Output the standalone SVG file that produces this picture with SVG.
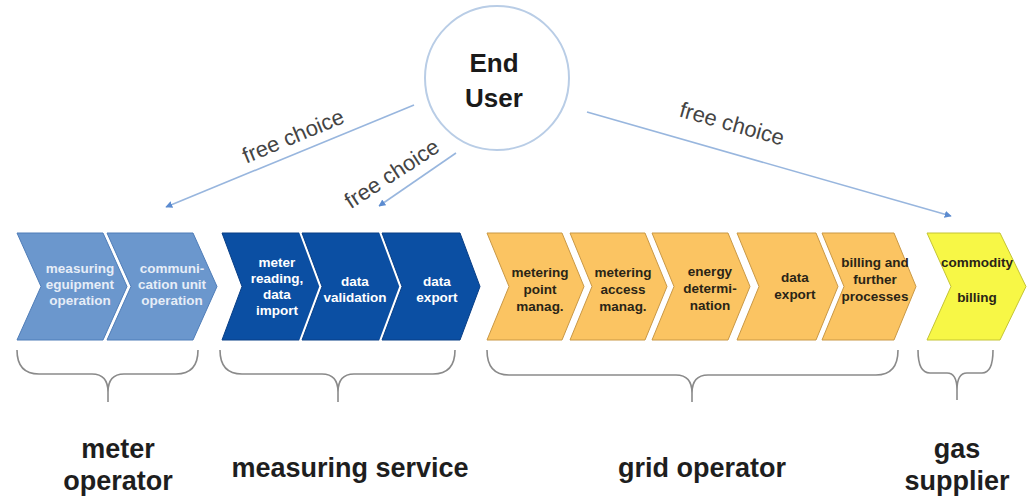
<svg xmlns="http://www.w3.org/2000/svg" width="1030" height="497" viewBox="0 0 1030 497">
  <defs>
    <marker id="tri" viewBox="0 0 10 10" refX="9" refY="5" markerWidth="7" markerHeight="7" orient="auto" markerUnits="userSpaceOnUse">
      <path d="M0,0 L10,5 L0,10 z" fill="#5b8bd0"/>
    </marker>
    <!-- chevron outlines: top-left, top-right, tip, bottom-right, bottom-left, notch -->
    <polygon id="c-meq" points="17,233 103,233 127,286.5 103,340 17,340 41,286.5"/>
    <polygon id="c-com" points="107,233 193,233 217,286.5 193,340 107,340 131,286.5"/>
    <polygon id="c-mrd" points="222,233 300,233 320,286.5 300,340 222,340 242,286.5"/>
    <polygon id="c-val" points="302,233 380,233 400,286.5 380,340 302,340 322,286.5"/>
    <polygon id="c-exm" points="382,233 460,233 480,286.5 460,340 382,340 402,286.5"/>
    <polygon id="c-mpt" points="487,233 562,233 584,286.5 562,340 487,340 509,286.5"/>
    <polygon id="c-mac" points="570,233 645,233 667,286.5 645,340 570,340 592,286.5"/>
    <polygon id="c-ene" points="652,233 728,233 750,286.5 728,340 652,340 674,286.5"/>
    <polygon id="c-exg" points="737,233 816,233 838,286.5 816,340 737,340 759,286.5"/>
    <polygon id="c-bil" points="822,233 894,233 916,286.5 894,340 822,340 844,286.5"/>
    <polygon id="c-cmd" points="927,233 1000,233 1026,286.5 1000,340 927,340 951,286.5"/>
    <style>
      .halo { fill: #ffffff; stroke: #ffffff; stroke-width: 5; stroke-linejoin: miter; }
      .lb { fill: #6b97cd; stroke: #4f7db8; stroke-width: 1; }
      .db { fill: #0b4fa3; stroke: #083e86; stroke-width: 1; }
      .or { fill: #fbc462; stroke: #c99845; stroke-width: 1; }
      .ye { fill: #f7f746; stroke: #c4c435; stroke-width: 1; }
      .t { font-family: "Liberation Sans", Arial, sans-serif; font-weight: 700; font-size: 13.5px; text-anchor: middle; }
      .tl { fill: #e6edf7; }
      .td { fill: #ffffff; }
      .tk { fill: #2a2416; }
      .conn { stroke: #98b6de; stroke-width: 1.6; fill: none; }
      .lbl { font-family: "Liberation Sans", Arial, sans-serif; font-size: 22px; fill: #444; text-anchor: middle; }
      .brace { stroke: #8a8a8a; stroke-width: 1.6; fill: none; }
      .role { font-family: "Liberation Sans", Arial, sans-serif; font-weight: 700; font-size: 27px; fill: #1e1e1e; text-anchor: middle; }
    </style>
  </defs>
  <rect width="1030" height="497" fill="#ffffff"/>

  <!-- End user -->
  <g id="end-user">
    <circle cx="497" cy="78" r="72" fill="#ffffff" stroke="#b9cde6" stroke-width="2"/>
    <text x="494" y="72" font-family="Liberation Sans, Arial, sans-serif" font-weight="700" font-size="26" fill="#1a1a1a" text-anchor="middle">End</text>
    <text x="494" y="107" font-family="Liberation Sans, Arial, sans-serif" font-weight="700" font-size="26" fill="#1a1a1a" text-anchor="middle">User</text>
  </g>

  <!-- Choice connectors -->
  <g id="connectors">
    <line class="conn" x1="414" y1="105" x2="166" y2="207" marker-end="url(#tri)"/>
    <line class="conn" x1="456" y1="153" x2="379" y2="206" marker-end="url(#tri)"/>
    <line class="conn" x1="587" y1="112" x2="951" y2="216" marker-end="url(#tri)"/>
    <text class="lbl" transform="translate(296,143) rotate(-22.6)">free choice</text>
    <text class="lbl" transform="translate(396,180) rotate(-33)">free choice</text>
    <text class="lbl" transform="translate(730,131) rotate(15.8)">free choice</text>
  </g>

  <!-- Meter operator steps -->
  <g id="measuring-equipment">
    <use href="#c-meq" class="halo"/><use href="#c-meq" class="lb"/>
    <text class="t tl" x="80" y="273">measuring</text>
    <text class="t tl" x="80" y="289">eguipment</text>
    <text class="t tl" x="80" y="305">operation</text>
  </g>
  <g id="communication-unit">
    <use href="#c-com" class="halo"/><use href="#c-com" class="lb"/>
    <text class="t tl" x="172" y="273">communi-</text>
    <text class="t tl" x="172" y="289">cation unit</text>
    <text class="t tl" x="172" y="305">operation</text>
  </g>

  <!-- Measuring service steps -->
  <g id="meter-reading">
    <use href="#c-mrd" class="halo"/><use href="#c-mrd" class="db"/>
    <text class="t td" x="277" y="267">meter</text>
    <text class="t td" x="277" y="283">reading,</text>
    <text class="t td" x="277" y="299">data</text>
    <text class="t td" x="277" y="315">import</text>
  </g>
  <g id="data-validation">
    <use href="#c-val" class="halo"/><use href="#c-val" class="db"/>
    <text class="t td" x="355" y="286">data</text>
    <text class="t td" x="355" y="302">validation</text>
  </g>
  <g id="data-export-ms">
    <use href="#c-exm" class="halo"/><use href="#c-exm" class="db"/>
    <text class="t td" x="437" y="286">data</text>
    <text class="t td" x="437" y="302">export</text>
  </g>

  <!-- Grid operator steps -->
  <g id="metering-point">
    <use href="#c-mpt" class="halo"/><use href="#c-mpt" class="or"/>
    <text class="t tk" x="540" y="277">metering</text>
    <text class="t tk" x="540" y="294">point</text>
    <text class="t tk" x="540" y="311">manag.</text>
  </g>
  <g id="metering-access">
    <use href="#c-mac" class="halo"/><use href="#c-mac" class="or"/>
    <text class="t tk" x="623" y="277">metering</text>
    <text class="t tk" x="623" y="294">access</text>
    <text class="t tk" x="623" y="311">manag.</text>
  </g>
  <g id="energy-determination">
    <use href="#c-ene" class="halo"/><use href="#c-ene" class="or"/>
    <text class="t tk" x="710" y="276">energy</text>
    <text class="t tk" x="710" y="293">determi-</text>
    <text class="t tk" x="710" y="310">nation</text>
  </g>
  <g id="data-export-go">
    <use href="#c-exg" class="halo"/><use href="#c-exg" class="or"/>
    <text class="t tk" x="795" y="282">data</text>
    <text class="t tk" x="795" y="299">export</text>
  </g>
  <g id="billing-processes">
    <use href="#c-bil" class="halo"/><use href="#c-bil" class="or"/>
    <text class="t tk" x="875" y="267">billing and</text>
    <text class="t tk" x="875" y="284">further</text>
    <text class="t tk" x="875" y="301">processes</text>
  </g>

  <!-- Gas supplier step -->
  <g id="commodity-billing">
    <use href="#c-cmd" class="halo"/><use href="#c-cmd" class="ye"/>
    <text class="t tk" x="977" y="267">commodity</text>
    <text class="t tk" x="977" y="302">billing</text>
  </g>

  <!-- Role braces -->
  <g id="braces">
    <path class="brace" d="M17,350 Q17,374 39,374 L92,374 Q108,374 108,392 L108,402 M108,392 Q108,374 124,374 L176,374 Q198,374 198,350"/>
    <path class="brace" d="M220,350 Q220,374 242,374 L322,374 Q338,374 338,392 L338,402 M338,392 Q338,374 354,374 L433,374 Q455,374 455,350"/>
    <path class="brace" d="M487,350 Q487,375 509,375 L676,375 Q692,375 692,393 L692,402 M692,393 Q692,375 708,375 L876,375 Q898,375 898,350"/>
    <path class="brace" d="M918,350 Q918,373 930,373 L947,373 Q957,373 957,390 L957,400 M957,390 Q957,373 967,373 L982,373 Q993,373 993,350"/>
  </g>

  <!-- Role labels -->
  <g id="roles">
    <text class="role" x="118" y="458">meter</text>
    <text class="role" x="118" y="490">operator</text>
    <text class="role" x="350" y="477">measuring service</text>
    <text class="role" x="702" y="477">grid operator</text>
    <text class="role" x="957" y="458">gas</text>
    <text class="role" x="957" y="490">supplier</text>
  </g>
</svg>
